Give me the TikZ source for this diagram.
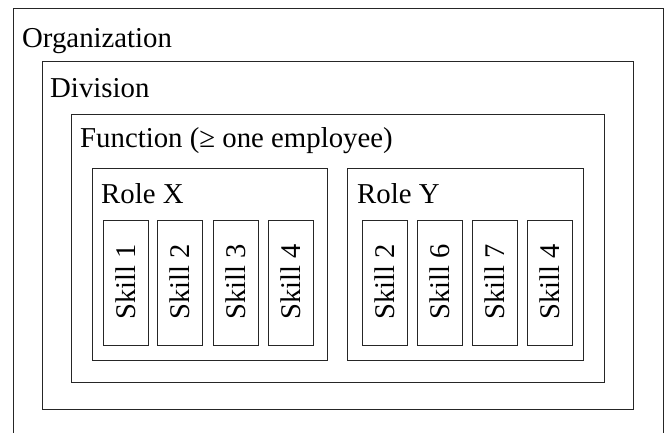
\documentclass[tikz,border=0pt]{standalone}
\usepackage{fontspec}
\setmainfont{Liberation Serif}
\begin{document}
\begin{tikzpicture}[x=1pt,y=-1pt,
  box/.style={draw=black!85, line width=1pt, inner sep=0pt},
  lbl/.style={anchor=west, inner sep=0pt, font=\fontsize{28.8}{32}\selectfont},
  skl/.style={box, minimum width=45pt, minimum height=124pt},
  sktext/.style={rotate=90, inner sep=0pt, font=\fontsize{28.5}{32}\selectfont}]
\useasboundingbox (0,0) rectangle (665,433);
\clip (0,0) rectangle (665,433);
% containers
\node[box, minimum width=650pt, minimum height=440pt] (org) at (338,229) {};
\node[box, minimum width=591pt, minimum height=347pt] (div) at (337.5,235.5) {};
\node[box, minimum width=533pt, minimum height=267pt] (fun) at (337.5,248.5) {};
\node[box, minimum width=235pt, minimum height=191pt] (rx) at (209.5,264.5) {};
\node[box, minimum width=236pt, minimum height=191pt] (ry) at (465.5,264.5) {};
% labels
\node[lbl] (orgl) at (22,41) {Organization};
\node[lbl] (divl) at (50,88) {Division};
\node[lbl] (funl) at (80,141) {Function (≥ one employee)};
\node[lbl] (rxl) at (101,194) {Role X};
\node[lbl] (ryl) at (357,194) {Role Y};
% skills role X
\node[skl] (x1) at (125.5,283) {};
\node[skl] (x2) at (180,283) {};
\node[skl] (x3) at (235.5,283) {};
\node[skl] (x4) at (290.5,283) {};
\node[sktext] at ([yshift=1.5pt]x1) {Skill 1};
\node[sktext] at ([yshift=1.5pt]x2) {Skill 2};
\node[sktext] at ([yshift=1.5pt]x3) {Skill 3};
\node[sktext] at ([yshift=1.5pt]x4) {Skill 4};
% skills role Y
\node[skl] (y1) at (384.5,283) {};
\node[skl] (y2) at (439.5,283) {};
\node[skl] (y3) at (494.5,283) {};
\node[skl] (y4) at (549.5,283) {};
\node[sktext] at ([yshift=1.5pt]y1) {Skill 2};
\node[sktext] at ([yshift=1.5pt]y2) {Skill 6};
\node[sktext] at ([yshift=1.5pt]y3) {Skill 7};
\node[sktext] at ([yshift=1.5pt]y4) {Skill 4};
\end{tikzpicture}
\end{document}
